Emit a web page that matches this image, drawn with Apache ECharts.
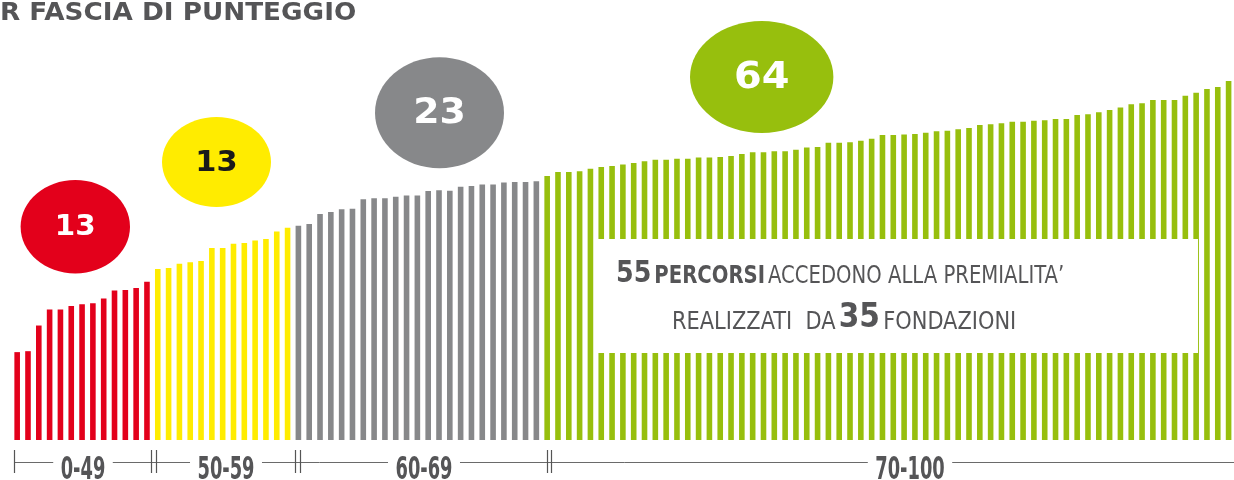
<!DOCTYPE html>
<html><head><meta charset="utf-8">
<script src="https://cdn.jsdelivr.net/npm/echarts@6/dist/echarts.min.js"></script>
<style>html,body{margin:0;padding:0;background:#fff}#c{width:1234px;height:480px}</style>
</head><body><div id="c"></div>
<script>
// Score bands and counts (numbers in the circles)
const groupNames = ['0-49', '50-59', '60-69', '70-100'];
const groupCounts = [13, 13, 23, 64];
const groupColors = ['#e3001b', '#ffec00', '#87888a', '#97bf0d'];
// Estimated scores of each project, sorted, per band
const redScores = [33.5, 33.7, 39.1, 42.5, 42.5, 43.2, 43.6, 43.8, 44.8, 46.5, 46.6, 47.0, 48.3];
const yellowScores = [51.0, 51.2, 52.1, 52.4, 52.7, 55.4, 55.4, 56.3, 56.5, 57.0, 57.3, 58.9, 59.7];
const grayScores = [60.1, 60.5, 62.6, 63.0, 63.6, 63.7, 65.7, 65.9, 65.9, 66.2, 66.5, 66.5, 67.4, 67.6, 67.5,
  68.3, 68.5, 68.8, 68.8, 69.2, 69.3, 69.3, 69.5];
const greenScores = [70.6, 71.4, 71.4, 71.6, 72.1, 72.5, 72.7, 73.0, 73.3, 73.7, 74.0, 74.0, 74.2, 74.2, 74.5, 74.5,
  74.6, 74.8, 75.2, 75.6, 75.6, 75.8, 75.8, 76.1, 76.6, 76.7, 77.6, 77.6, 77.7, 78.0, 78.4, 79.2,
  79.2, 79.3, 79.4, 79.7, 80.0, 80.1, 80.4, 80.7, 81.3, 81.5, 81.7, 82.0, 82.0, 82.2, 82.3, 82.6,
  82.6, 83.4, 83.6, 84.0, 84.5, 85.0, 85.7, 85.9, 86.6, 86.6, 86.6, 87.5, 88.1, 88.9, 89.3, 90.6];
const titleText = 'R FASCIA DI PUNTEGGIO';

const groups = [redScores, yellowScores, grayScores, greenScores];
const data = [];
const cats = [];
groups.forEach((g, gi) => g.forEach(v => {
  cats.push(String(cats.length + 1));
  data.push({ value: v, itemStyle: { color: groupColors[gi] } });
}));

const chart = echarts.init(document.getElementById('c'));
const cond = '"DejaVu Sans Condensed", "DejaVu Sans", sans-serif';
const grey = '#555557';

function bubble(cx, cy, rx, ry, color, txt, txtColor, size) {
  return [
    { type: 'ellipse', shape: { cx, cy, rx, ry }, style: { fill: color }, z: 50 },
    { type: 'text', x: cx, y: cy + 1, z: 51, scaleX: 1.05, style: { text: txt, fill: txtColor, align: 'center', verticalAlign: 'middle',
      font: 'bold ' + size + 'px "DejaVu Sans", sans-serif' } }
  ];
}

const labelPos = [83, 226, 424, 910];
const tickXs = [14.5, 151.5, 156.5, 295.5, 300.5, 547.5, 551.5];

const graphic = [
  { type: 'text', x: 0, y: 1, z: 60, scaleX: 1.05, style: { text: titleText, fill: grey, verticalAlign: 'top',
    font: 'bold 25px "DejaVu Sans", sans-serif' } },
  ...bubble(75.3, 226.7, 54.7, 46.7, groupColors[0], String(groupCounts[0]), '#fff', 28),
  ...bubble(216.5, 162, 54.5, 45, groupColors[1], String(groupCounts[1]), '#1a1a1a', 29),
  ...bubble(439.5, 112.8, 64.5, 55.5, groupColors[2], String(groupCounts[2]), '#fff', 36),
  ...bubble(761.7, 77, 71.7, 56, groupColors[3], String(groupCounts[3]), '#fff', 38),
  { type: 'rect', shape: { x: 596.5, y: 239, width: 601.5, height: 114 }, style: { fill: '#fff' }, z: 100 },
  { type: 'text', x: 616, y: 289, z: 101, scaleX: 0.91, style: {
    text: '{a|55} {b|PERCORSI} {c|ACCEDONO ALLA PREMIALITA\u2019}', verticalAlign: 'bottom',
    rich: {
      a: { font: 'bold 31px ' + cond, fill: grey, verticalAlign: 'bottom' },
      b: { font: 'bold 24px ' + cond, fill: grey, verticalAlign: 'bottom' },
      c: { font: '24px ' + cond, fill: grey, verticalAlign: 'bottom' }
    } } },
  { type: 'text', x: 672, y: 335, z: 101, scaleX: 0.97, style: {
    text: '{c|REALIZZATI  DA} {a|35} {c|FONDAZIONI}', verticalAlign: 'bottom',
    rich: {
      a: { font: 'bold 34px ' + cond, fill: grey, verticalAlign: 'bottom' },
      c: { font: '24px ' + cond, fill: grey, verticalAlign: 'bottom' }
    } } },
  { type: 'line', shape: { x1: 14.5, y1: 462.5, x2: 1234, y2: 462.5 }, style: { stroke: '#6a6a6a', lineWidth: 1 }, z: 60 },
  ...tickXs.map(x => ({ type: 'line', shape: { x1: x, y1: 450, x2: x, y2: 473 }, style: { stroke: '#555', lineWidth: 1.2 }, z: 61 })),
  ...groupNames.map((n, i) => ({ type: 'text', x: labelPos[i], y: 455, z: 62, scaleX: 0.62, style: {
    text: n, fill: grey, align: 'center', verticalAlign: 'top', backgroundColor: '#fff', padding: [0, 12],
    font: 'bold 32px ' + cond } }))
];

chart.setOption({
  animation: false,
  backgroundColor: '#fff',
  grid: { left: 11.76, width: 1228.8, top: 36.25, bottom: 40 },
  xAxis: { type: 'category', data: cats, show: false },
  yAxis: { type: 'value', min: 15, max: 100, show: false },
  series: [{ type: 'bar', data, barWidth: 5.6, silent: true }],
  graphic
});
</script></body></html>
